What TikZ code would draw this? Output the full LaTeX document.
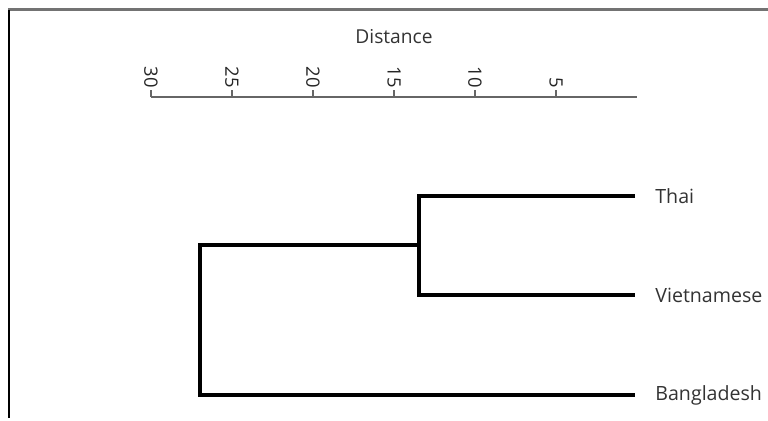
\documentclass[tikz,border=0pt]{standalone}
\usepackage{fontspec}
\setmainfont{Open Sans}

\begin{document}
\begin{tikzpicture}[x=0.5pt,y=-0.5pt,
  axis/.style={draw=black!60,line width=1pt},
  branch/.style={draw=black,line width=1.6pt},
  leaf/.style={anchor=west,inner xsep=10pt,inner ysep=0pt,text=black!80,font=\fontsize{9.8}{11}\selectfont},
  ticklabel/.style={rotate=-90,anchor=east,inner sep=0.5pt,text=black!85,font=\fontsize{9.2}{10}\selectfont}]

\useasboundingbox (0,0) rectangle (768,421);

% frame of the window
\draw[black!55,line width=1.2pt] (8,9.5)--(768,9.5);
\draw[black,line width=0.6pt] (9,10)--(9,418);

% distance axis
\node[text=black!80,font=\fontsize{9.6}{11}\selectfont] (title) at (394,37) {Distance};
\coordinate (a30) at (151,97);
\coordinate (a0) at (637,97);
\draw[axis] (a30)--(a0);
\foreach \d in {30,25,20,15,10,5}{
  \coordinate (t\d) at ({637-16.2*\d},97);
  \draw[axis] (t\d)--++(0,-7) node[ticklabel]{\d};
}

% leaves
\node[leaf] (thai) at (635,196) {Thai};
\node[leaf] (viet) at (635,295) {Vietnamese};
\node[leaf] (bang) at (635,395) {Bangladesh};

% merges
\coordinate (m1) at (419,245);
\coordinate (m2) at (200,245);

\draw[branch] (thai.west)--(thai.west -| m1)--(viet.west -| m1)--(viet.west);
\draw[branch] (m1)--(m2)--(bang.west -| m2)--(bang.west);

\end{tikzpicture}
\end{document}
